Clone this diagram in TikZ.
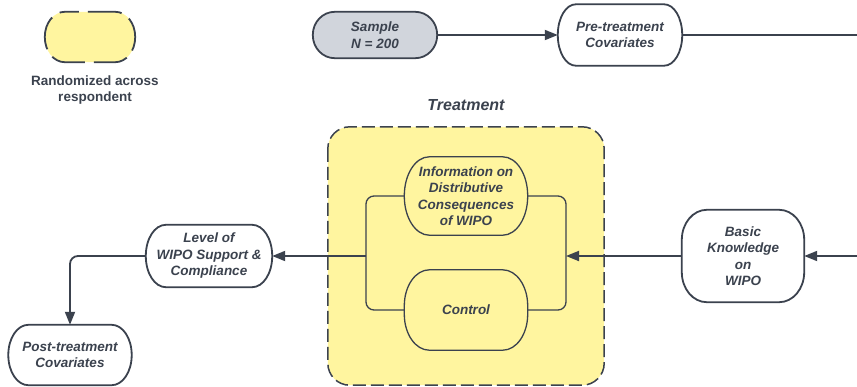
\documentclass[tikz,border=0pt]{standalone}
\usepackage{fontspec}
\setmainfont{Liberation Sans}
\usetikzlibrary{arrows.meta,backgrounds}
\definecolor{ink}{HTML}{3B424E}
\definecolor{pale}{HTML}{FFF59F}
\definecolor{greyfill}{HTML}{D1D5DC}
\tikzset{
  term/.style={inner sep=0pt, align=center, text=ink,
    font=\fontsize{13.5}{16.5}\selectfont\bfseries\itshape},
  frame/.style={draw=ink, line width=1.8pt, fill=white},
  inner frame/.style={draw=ink, line width=1.3pt, fill=pale},
  link/.style={draw=ink, line width=1.8pt},
  thin link/.style={draw=ink, line width=1.3pt, rounded corners=8pt},
  tip/.style={-{Triangle[length=13pt,width=10pt]}},
}
% outline of a terminator box: node name, horizontal and vertical corner radii, style
\newcommand\termframe[4]{%
  \path[#4] ([xshift=#2]#1.north west) -- ([xshift=-#2]#1.north east)
    arc[start angle=90, end angle=0, x radius=#2, y radius=#3]
    -- ([yshift=#3]#1.south east)
    arc[start angle=0, end angle=-90, x radius=#2, y radius=#3]
    -- ([xshift=#2]#1.south west)
    arc[start angle=270, end angle=180, x radius=#2, y radius=#3]
    -- ([yshift=-#3]#1.north west)
    arc[start angle=180, end angle=90, x radius=#2, y radius=#3] -- cycle;}
\begin{document}
\begin{tikzpicture}[x=1pt,y=-1pt]
\useasboundingbox (0,0) rectangle (857,386);

% legend
\node[minimum width=90pt, minimum height=50pt] (legend) at (90,37) {};
\node[text=ink, align=center, font=\fontsize{13.5}{16.5}\selectfont\bfseries]
      (legendtext) at (95,90) {Randomized across\\respondent};

% top row
\node[term, minimum width=124pt, minimum height=46pt]
      (sample) at (375,35) {Sample\\N = 200};
\node[term, minimum width=124pt, minimum height=61pt]
      (pre) at (620,35) {Pre-treatment\\Covariates};
\coordinate (topend) at (857,35);
\draw[link, tip] (sample) -- (pre);
\draw[link] (pre) -- (topend);

% treatment block
\node[text=ink, font=\fontsize{16}{19}\selectfont\bfseries\itshape]
      (treatlabel) at (466,105) {Treatment};
\node[minimum width=276pt, minimum height=258pt] (treat) at (466,256) {};
\node[term, minimum width=123pt, minimum height=78pt]
      (info) at (466,196) {Information on\\Distributive\\Consequences\\of WIPO};
\node[term, minimum width=123pt, minimum height=80pt]
      (control) at (466,310) {Control};
\coordinate (lbar) at (366,256);
\coordinate (rbar) at (566,256);
\draw[thin link] (info.west) -- (366,196) -- (366,310) -- (control.west);
\draw[thin link] (info.east) -- (566,196) -- (566,310) -- (control.east);

% right side input
\node[term, minimum width=122pt, minimum height=92pt]
      (basic) at (743,256) {Basic\\Knowledge\\on\\WIPO};
\coordinate (rightend) at (857,256);
\draw[link, tip] (rightend) -- (basic);
\draw[link, tip] (basic) -- (rbar);

% outcome side
\node[term, minimum width=126pt, minimum height=62pt]
      (level) at (209,256) {Level of\\WIPO Support \&\\Compliance};
\node[term, minimum width=123pt, minimum height=60pt]
      (post) at (70,355) {Post-treatment\\Covariates};
\draw[link, tip] (lbar) -- (level);
\draw[link, tip, rounded corners=8pt] (level.west) -| (post.north);

% box outlines behind the texts
\begin{scope}[on background layer]
  \path[draw=ink, line width=1.5pt, fill=pale, rounded corners=22pt,
        dash pattern=on 13pt off 5pt]
        (treat.north west) rectangle (treat.south east);
  \termframe{legend}{20pt}{25pt}{draw=ink, line width=1.8pt, fill=pale,
        dash pattern=on 34pt off 9pt, dash phase=20pt}
  \termframe{sample}{22pt}{23pt}{frame, fill=greyfill}
  \termframe{pre}{18pt}{30.5pt}{frame}
  \termframe{info}{25pt}{39pt}{inner frame}
  \termframe{control}{25pt}{36pt}{inner frame}
  \termframe{basic}{25pt}{30pt}{frame}
  \termframe{level}{20pt}{31pt}{frame}
  \termframe{post}{20pt}{30pt}{frame}
\end{scope}
\end{tikzpicture}
\end{document}
